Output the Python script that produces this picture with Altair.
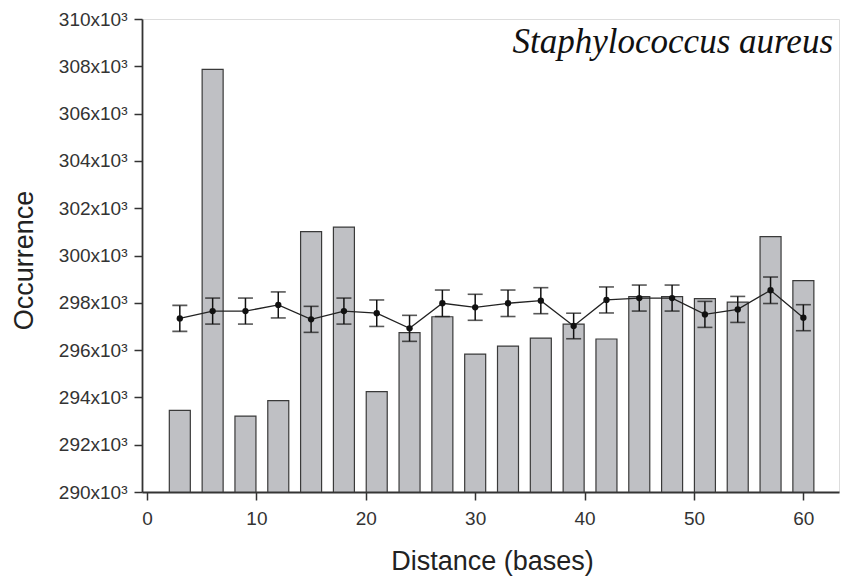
import altair as alt
import pandas as pd

# distance (bases)
distance = [3, 6, 9, 12, 15, 18, 21, 24, 27, 30, 33, 36, 39, 42, 45, 48, 51, 54, 57, 60]
# observed occurrence (x10^3)
observed = [293.45, 307.87, 293.21, 293.86, 301.01, 301.20, 294.24, 296.74, 297.41, 295.83,
            296.17, 296.51, 297.10, 296.47, 298.26, 298.26, 298.18, 298.03, 300.80, 298.94]
# expected mean occurrence (x10^3)
expected = [297.34, 297.65, 297.65, 297.91, 297.30, 297.65, 297.56, 296.92, 297.98, 297.81,
            297.98, 298.09, 297.02, 298.12, 298.20, 298.20, 297.51, 297.72, 298.53, 297.37]
# error (x10^3)
error = [0.55, 0.55, 0.55, 0.55, 0.55, 0.55, 0.56, 0.55, 0.56, 0.55,
         0.56, 0.55, 0.54, 0.55, 0.55, 0.55, 0.55, 0.55, 0.56, 0.55]

y_ticks = [290, 292, 294, 296, 298, 300, 302, 304, 306, 308, 310]
x_ticks = [0, 10, 20, 30, 40, 50, 60]

df = pd.DataFrame({"x": distance, "obs": observed, "mean": expected, "err": error})
df["lo"] = df["mean"] - df["err"]
df["hi"] = df["mean"] + df["err"]
df["base"] = 290

W, H = 697, 473
FONT = "Liberation Sans"

xs = alt.X("x:Q", scale=alt.Scale(domain=[0, 62.8], nice=False, zero=False),
           axis=alt.Axis(values=x_ticks, title="Distance (bases)", grid=False,
                         tickSize=8, tickColor="#333", tickWidth=1.5,
                         domainColor="#333", domainWidth=1.8,
                         labelFont=FONT, labelFontSize=19, labelColor="#333", labelPadding=9,
                         titleFont=FONT, titleFontSize=27, titleFontWeight="normal", titleColor="#222",
                         titleBaseline="alphabetic", titleX=350, titleY=77))
ys = alt.Y("obs:Q", scale=alt.Scale(domain=[290, 310], nice=False, zero=False),
           axis=alt.Axis(values=y_ticks, title="Occurrence", grid=False,
                         labelExpr="datum.value + 'x10³'",
                         tickSize=8, tickColor="#333", tickWidth=1.5,
                         domainColor="#333", domainWidth=1.8,
                         labelFont=FONT, labelFontSize=19, labelColor="#333", labelPadding=7,
                         titleFont=FONT, titleFontSize=27, titleFontWeight="normal", titleColor="#222",
                         titleAngle=-90, titleBaseline="alphabetic", titleAlign="center",
                         titleX=-110, titleY=241))

base = alt.Chart(df)

bars = base.mark_bar(size=21, color="#bfc0c4", stroke="#3a3a3a", strokeWidth=1.2).encode(
    x=xs, y=ys, y2="base:Q")

rules = base.mark_rule(color="#111", strokeWidth=1.5).encode(
    x="x:Q", y="lo:Q", y2="hi:Q")
caps_lo = base.mark_tick(orient="horizontal", size=15, thickness=1.6, color="#111").encode(
    x="x:Q", y="lo:Q")
caps_hi = base.mark_tick(orient="horizontal", size=15, thickness=1.6, color="#111").encode(
    x="x:Q", y="hi:Q")
line = base.mark_line(color="#222", strokeWidth=1.3).encode(x="x:Q", y="mean:Q")
pts = base.mark_point(filled=True, size=40, color="#111", opacity=1).encode(x="x:Q", y="mean:Q")

label = alt.Chart(pd.DataFrame({"t": ["Staphylococcus aureus"]})).mark_text(
    font="Liberation Serif", fontStyle="italic", fontSize=35, align="right",
    baseline="alphabetic", color="#111").encode(
    text="t:N", x=alt.value(691), y=alt.value(34))

chart = alt.layer(bars, rules, caps_lo, caps_hi, line, pts, label).properties(
    width=W, height=H,
    autosize=alt.AutoSizeParams(type="none"),
    padding={"left": 142, "top": 19, "right": 2, "bottom": 85},
).configure_view(stroke="#777", strokeWidth=1.2).configure(background="white")

chart.save("out.html", embed_options={"renderer": "svg", "actions": False})
